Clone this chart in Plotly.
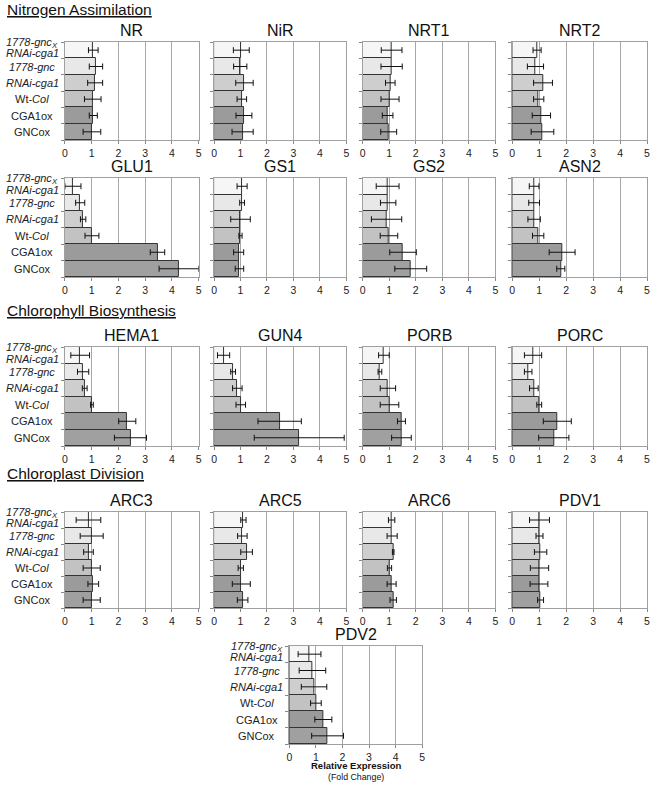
import plotly.graph_objects as go

W, H = 655, 785

genotypes = ["1778-gnc x RNAi-cga1", "1778-gnc", "RNAi-cga1", "Wt-Col", "CGA1ox", "GNCox"]
# row label texts (first genotype is split on two lines with tight spacing)
label_text = [
    "<i>1778-gnc</i><sub><i>X</i></sub>",
    "<i>RNAi-cga1</i>",
    "<i>1778-gnc</i>",
    "<i>RNAi-cga1</i>",
    "Wt-<i>Col</i>",
    "CGA1ox",
    "GNCox",
]
label_pos = [-0.46, 0.2, 1, 2, 3, 4, 5]
bar_colors = ["#f6f6f6", "#e8e8e8", "#cecece", "#c2c2c2", "#9b9b9b", "#a0a0a0"]
x_ticks = [0, 1, 2, 3, 4, 5]

# Nitrogen assimilation
NR = [1.06, 1.16, 1.13, 1.04, 1.06, 1.01]
NR_err = [0.18, 0.25, 0.28, 0.31, 0.15, 0.33]
NiR = [1.03, 0.99, 1.15, 1.05, 1.13, 1.08]
NiR_err = [0.30, 0.25, 0.33, 0.18, 0.30, 0.40]
NRT1 = [1.09, 1.09, 1.04, 1.03, 0.94, 0.98]
NRT1_err = [0.39, 0.40, 0.18, 0.34, 0.20, 0.30]
NRT2 = [0.92, 0.86, 1.14, 0.98, 1.08, 1.12]
NRT2_err = [0.15, 0.30, 0.35, 0.19, 0.34, 0.42]
GLU1 = [0.30, 0.57, 0.68, 1.01, 3.46, 4.26]
GLU1_err = [0.30, 0.17, 0.10, 0.26, 0.27, 0.74]
GS1 = [1.06, 1.06, 1.00, 1.00, 0.93, 0.96]
GS1_err = [0.19, 0.09, 0.37, 0.06, 0.19, 0.16]
GS2 = [0.94, 0.96, 0.90, 0.99, 1.52, 1.81]
GS2_err = [0.43, 0.29, 0.57, 0.33, 0.50, 0.60]
ASN2 = [0.81, 0.81, 0.81, 0.96, 1.85, 1.80]
ASN2_err = [0.18, 0.20, 0.23, 0.21, 0.48, 0.15]
# Chlorophyll biosynthesis
HEMA1 = [0.57, 0.68, 0.74, 1.01, 2.33, 2.45]
HEMA1_err = [0.35, 0.21, 0.09, 0.05, 0.32, 0.60]
GUN4 = [0.36, 0.72, 0.88, 1.01, 2.48, 3.22]
GUN4_err = [0.23, 0.09, 0.18, 0.18, 0.82, 1.70]
PORB = [0.80, 0.65, 0.95, 1.01, 1.46, 1.46]
PORB_err = [0.20, 0.07, 0.29, 0.35, 0.15, 0.37]
PORC = [0.77, 0.59, 0.80, 1.00, 1.67, 1.54]
PORC_err = [0.32, 0.14, 0.16, 0.09, 0.52, 0.56]
# Chloroplast division
ARC3 = [0.88, 1.00, 0.88, 1.00, 1.06, 1.00]
ARC3_err = [0.46, 0.43, 0.18, 0.32, 0.20, 0.32]
ARC5 = [1.11, 1.07, 1.23, 1.01, 1.03, 1.08]
ARC5_err = [0.10, 0.18, 0.22, 0.10, 0.34, 0.20]
ARC6 = [1.09, 1.11, 1.15, 1.01, 1.09, 1.15]
ARC6_err = [0.12, 0.19, 0.03, 0.08, 0.17, 0.12]
PDV1 = [1.01, 1.01, 1.05, 1.01, 0.99, 1.05]
PDV1_err = [0.37, 0.13, 0.23, 0.34, 0.33, 0.11]
PDV2 = [0.76, 0.87, 0.93, 1.00, 1.28, 1.44]
PDV2_err = [0.43, 0.50, 0.48, 0.20, 0.32, 0.60]

# layout geometry in pixels
cols_px = [(62.5, 197.5), (213, 346.5), (363, 497), (514, 650)]
rows_px = [(42, 140), (178, 277), (347, 446), (512, 608), (646, 744)]
pdv2_x = (289, 423)

panels = [
    ("NR", NR, NR_err, cols_px[0], rows_px[0]),
    ("NiR", NiR, NiR_err, cols_px[1], rows_px[0]),
    ("NRT1", NRT1, NRT1_err, cols_px[2], rows_px[0]),
    ("NRT2", NRT2, NRT2_err, cols_px[3], rows_px[0]),
    ("GLU1", GLU1, GLU1_err, cols_px[0], rows_px[1]),
    ("GS1", GS1, GS1_err, cols_px[1], rows_px[1]),
    ("GS2", GS2, GS2_err, cols_px[2], rows_px[1]),
    ("ASN2", ASN2, ASN2_err, cols_px[3], rows_px[1]),
    ("HEMA1", HEMA1, HEMA1_err, cols_px[0], rows_px[2]),
    ("GUN4", GUN4, GUN4_err, cols_px[1], rows_px[2]),
    ("PORB", PORB, PORB_err, cols_px[2], rows_px[2]),
    ("PORC", PORC, PORC_err, cols_px[3], rows_px[2]),
    ("ARC3", ARC3, ARC3_err, cols_px[0], rows_px[3]),
    ("ARC5", ARC5, ARC5_err, cols_px[1], rows_px[3]),
    ("ARC6", ARC6, ARC6_err, cols_px[2], rows_px[3]),
    ("PDV1", PDV1, PDV1_err, cols_px[3], rows_px[3]),
    ("PDV2", PDV2, PDV2_err, pdv2_x, rows_px[4]),
]

FONT = "Liberation Sans, Arial, sans-serif"
ypos = list(range(len(genotypes)))
boundaries = [i - 0.5 for i in range(len(genotypes) + 1)]

fig = go.Figure()
layout = dict(
    width=W, height=H,
    margin=dict(l=0, r=0, t=0, b=0),
    paper_bgcolor="white", plot_bgcolor="white",
    showlegend=False, bargap=0,
    font=dict(family=FONT, color="#222"),
)
annotations = []

for i, (name, vals, errs, xpx, ypx) in enumerate(panels):
    n = "" if i == 0 else str(i + 1)
    fig.add_trace(go.Bar(
        x=vals, y=ypos, orientation="h", width=1,
        marker=dict(color=bar_colors, line=dict(color="#333", width=1)),
        error_x=dict(type="data", array=errs, color="#111", thickness=1, width=3),
        xaxis="x" + n, yaxis="y" + n, customdata=genotypes,
        hovertemplate="%{customdata}: %{x}<extra>" + name + "</extra>",
    ))
    xd = [xpx[0] / W, xpx[1] / W]
    yd = [1 - ypx[1] / H, 1 - ypx[0] / H]
    show_y = xpx[0] < 100 or name == "PDV2"
    layout["xaxis" + n] = dict(
        domain=xd, anchor="y" + n, range=[0, 5], tickvals=x_ticks,
        showgrid=True, gridcolor="#a8a8a8", gridwidth=1,
        showline=True, linecolor="#a0a0a0", mirror=True,
        ticks="outside", ticklen=3, tickcolor="#888",
        tickfont=dict(size=10.5, color="#222"),
        zeroline=True, zerolinecolor="#444", zerolinewidth=1, fixedrange=True,
    )
    layout["yaxis" + n] = dict(
        domain=yd, anchor="x" + n, range=[5.5, -0.5],
        tickvals=boundaries, ticks="outside", ticklen=3, tickcolor="#888",
        showline=True, linecolor="#a0a0a0", mirror=True,
        showticklabels=False, showgrid=False, zeroline=False, fixedrange=True,
    )
    if show_y:
        for txt, pos in zip(label_text, label_pos):
            annotations.append(dict(
                text=txt, x=(xpx[0] - 33) / W, y=pos, xref="paper", yref="y" + n,
                xanchor="center", yanchor="middle", showarrow=False,
                font=dict(size=11, color="#222"),
            ))
    annotations.append(dict(
        text=name, x=(xd[0] + xd[1]) / 2, y=yd[1], xref="paper", yref="paper",
        xanchor="center", yanchor="bottom", yshift=1, showarrow=False,
        font=dict(size=16, color="#111"),
    ))

sections = [("Nitrogen Assimilation", 10), ("Chlorophyll Biosynthesis", 310), ("Chloroplast Division", 473)]
for txt, ypx in sections:
    annotations.append(dict(
        text="<u>" + txt + "</u>", x=2 / W, y=1 - ypx / H, xref="paper", yref="paper",
        xanchor="left", yanchor="middle", showarrow=False,
        font=dict(size=15.5, color="#111"),
    ))

cx = (pdv2_x[0] + pdv2_x[1]) / 2 / W
annotations.append(dict(text="<b>Relative Expression</b>", x=cx, y=1 - 765 / H,
                        xref="paper", yref="paper", xanchor="center", yanchor="middle",
                        showarrow=False, font=dict(size=9.5, color="#111")))
annotations.append(dict(text="(Fold Change)", x=cx, y=1 - 777 / H,
                        xref="paper", yref="paper", xanchor="center", yanchor="middle",
                        showarrow=False, font=dict(size=8.8, color="#111")))

layout["annotations"] = annotations
fig.update_layout(**layout)
fig.write_html("out.html", config={"displayModeBar": False},
               post_script="document.body.style.margin='0';")
